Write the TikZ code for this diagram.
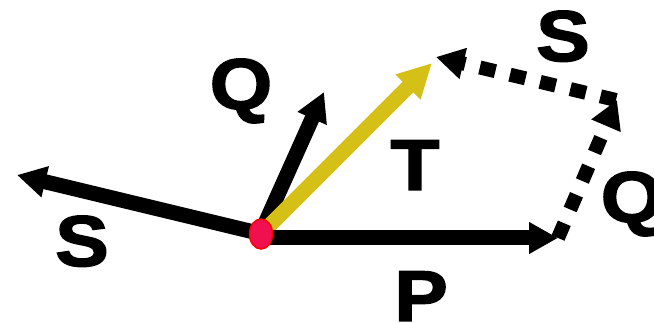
\documentclass[tikz,border=0pt]{standalone}
\usepackage{fontspec}
\newfontfamily\lblfont{Liberation Sans}[FakeStretch=1.12,BoldFeatures={FakeBold=2}]
\usetikzlibrary{arrows.meta,shapes.geometric}
\definecolor{tyellow}{RGB}{212,192,22}
\definecolor{dotred}{RGB}{240,16,80}
\tikzset{
  vec/.style={line width=15pt,-{Triangle[length=29pt,width=30pt]}},
  dotvec/.style={line width=14pt,dash pattern=on 16pt off 15pt,-{Triangle[length=28pt,width=30pt]}},
  lbl/.style={inner sep=0pt,anchor=base,font=\lblfont\bfseries\fontsize{72}{72}\selectfont}
}
\begin{document}
\begin{tikzpicture}[x=1pt,y=-1pt]
\useasboundingbox (0,0) rectangle (654,323);
\coordinate (O) at (261,234);
\coordinate (Sstart) at (258,233);
\coordinate (Stip) at (17,175);
\coordinate (Qstart) at (263,228);
\coordinate (Qtip) at (324,92);
\coordinate (Tstart) at (267,228);
\coordinate (Ttip) at (432,63);
\coordinate (Pstart) at (262,238);
\coordinate (Ptip) at (558,238);
\coordinate (Q2start) at (558,238);
\coordinate (Q2tip) at (617,100);
\coordinate (S2start) at (616,100);
\coordinate (S2tip) at (436,57);
\draw[vec] (Sstart) -- (Stip);
\draw[vec] (Qstart) -- (Qtip);
\draw[vec,tyellow,-{Triangle[length=34pt,width=33pt]}] (Tstart) -- (Ttip);
\draw[vec] (Pstart) -- (Ptip);
\draw[dotvec] (Q2start) -- (Q2tip);
\draw[dotvec] (S2start) -- (S2tip);
\node[draw=red,fill=dotred,line width=1.5pt,ellipse,minimum width=23pt,minimum height=30pt,inner sep=0pt] (dot) at (O) {};
\node[lbl] (lQ) at (241,109) {Q};
\node[lbl] (lT) at (415,190) {T};
\node[lbl] (lP) at (421,321) {P};
\node[lbl] (lS) at (82,266) {S};
\node[lbl] (lS2) at (563,61) {S};
\node[lbl] (lQ2) at (632,222) {Q};
\end{tikzpicture}
\end{document}
